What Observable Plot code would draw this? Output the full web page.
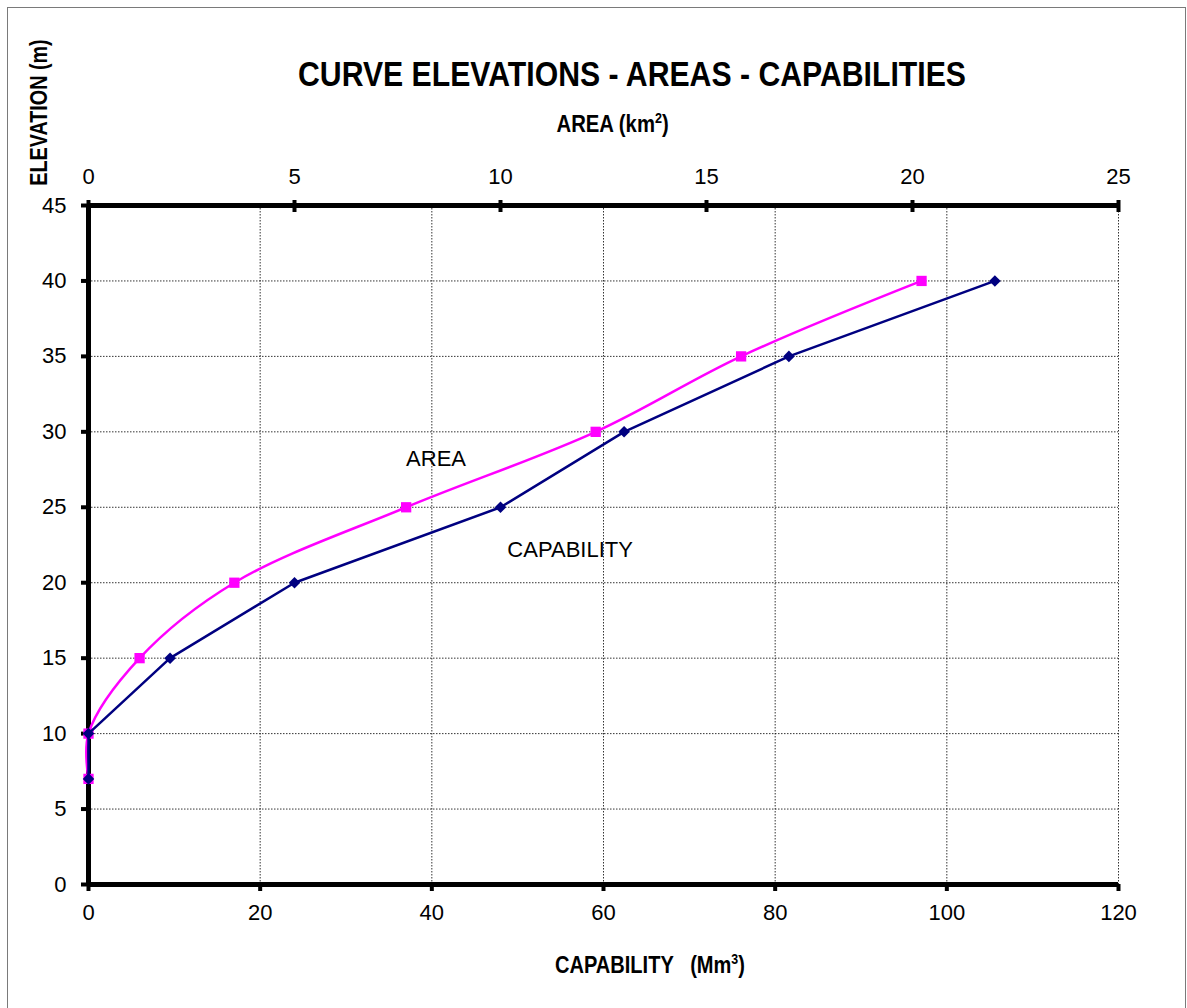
<!DOCTYPE html>
<html>
<head>
<meta charset="utf-8">
<script src="https://cdn.jsdelivr.net/npm/d3@7"></script>
<script src="https://cdn.jsdelivr.net/npm/@observablehq/plot@0.6"></script>
<style>
  body { margin: 0; background: #fff; }
  #wrap { position: relative; width: 1187px; height: 1008px; overflow: hidden; background: #fff; }
  #frame { position: absolute; left: 7px; top: 7px; width: 1179px; height: 1010px; border: 1.5px solid #7a7a7a; box-sizing: border-box; }
  .t { position: absolute; white-space: pre; color: #000; font-family: "Liberation Sans Narrow", "Liberation Sans", Arial, sans-serif; font-weight: bold; line-height: 1; transform-origin: 50% 50%; }
  #title { font-size: 35px; }
  #xtop { font-size: 23px; }
  #xbot { font-size: 23px; }
  #ylab { font-size: 23px; }
  sup { font-size: 0.62em; vertical-align: 0.6em; line-height: 0; }
  #chart { position: absolute; left: 0; top: 0; }
</style>
</head>
<body>
<div id="wrap">
  <div id="frame"></div>
  <div id="chart"></div>
  <div class="t" id="title">CURVE ELEVATIONS - AREAS - CAPABILITIES</div>
  <div class="t" id="xtop">AREA (km<sup>2</sup>)</div>
  <div class="t" id="xbot">CAPABILITY   (Mm<sup>3</sup>)</div>
  <div class="t" id="ylab">ELEVATION (m)</div>
</div>
<script>
// ---- data ----
const elevation  = [7, 10, 15, 20, 25, 30, 35, 40];               // m
const capability = [0, 0, 9.5, 24, 48, 62.4, 81.6, 105.6];        // Mm3
const area       = [0, 0, 1.24, 3.54, 7.71, 12.31, 15.84, 20.22]; // km2
const capTicks  = [0, 20, 40, 60, 80, 100, 120];
const areaTicks = [0, 5, 10, 15, 20, 25];
const elevTicks = [0, 5, 10, 15, 20, 25, 30, 35, 40, 45];
const labels = [
  {text: "AREA",       cap: 37.0, elev: 28.2},
  {text: "CAPABILITY", cap: 48.8, elev: 22.2}
];

// ---- build ----
const capMax = capTicks[capTicks.length - 1];
const areaMax = areaTicks[areaTicks.length - 1];
const elevMax = elevTicks[elevTicks.length - 1];
const k = capMax / areaMax; // area -> capability-axis units

const capData = elevation.map((e, i) => ({elev: e, v: capability[i]}));
const areaData = elevation.map((e, i) => ({elev: e, v: area[i] * k}));

const gridStyle = {stroke: "#000", strokeOpacity: 0.8, strokeDasharray: "1.5,1.5", strokeWidth: 1};

const chart = Plot.plot({
  width: 1187,
  height: 1008,
  marginLeft: 88,
  marginRight: 69,
  marginTop: 205,
  marginBottom: 124,
  x: {domain: [0, capMax]},
  y: {domain: [0, elevMax]},
  style: {fontFamily: "'Liberation Sans', Arial, sans-serif", fontSize: "22px", color: "#000", background: "transparent"},
  marks: [
    Plot.gridX(capTicks.filter(d => d > 0), gridStyle),
    Plot.gridY(elevTicks.filter(d => d > 0 && d < elevMax), gridStyle),
    Plot.axisX(capTicks, {anchor: "bottom", tickSize: 7, tickPadding: 13, strokeWidth: 4, label: null, fontSize: 22}),
    Plot.axisX(areaTicks.map(a => a * k), {anchor: "top", tickSize: 6, tickPadding: 16, strokeWidth: 4, label: null, fontSize: 22,
      tickFormat: d => String(Math.round(d / k * 100) / 100)}),
    Plot.axisX(areaTicks.map(a => a * k), {anchor: "top", tickSize: -6, strokeWidth: 4, label: null, tickFormat: () => ""}),
    Plot.axisY(elevTicks, {anchor: "left", tickSize: 7, tickPadding: 15, strokeWidth: 4, label: null, fontSize: 22}),
    Plot.ruleX([0], {stroke: "#000", strokeWidth: 5}),
    Plot.ruleY([0, elevMax], {stroke: "#000", strokeWidth: 5}),
    Plot.line(areaData, {x: "v", y: "elev", stroke: "#ff00ff", strokeWidth: 2.5, curve: "catmull-rom"}),
    Plot.dot(areaData, {x: "v", y: "elev", symbol: "square", fill: "#ff00ff", stroke: "none", r: 5.8}),
    Plot.line(capData, {x: "v", y: "elev", stroke: "#000080", strokeWidth: 2.5}),
    Plot.dot(capData, {x: "v", y: "elev", symbol: "diamond2", fill: "#000080", stroke: "none", r: 5.2}),
    Plot.text(labels, {x: "cap", y: "elev", text: "text", textAnchor: "start", fontSize: 22, fill: "#000"})
  ]
});
document.getElementById("chart").appendChild(chart);

// fit condensed-looking titles: center (cx, cy), target width, rotation
function fit(id, cx, cy, target, rot) {
  const el = document.getElementById(id);
  const w = el.offsetWidth, h = el.offsetHeight;
  const s = target / w;
  el.style.left = (cx - w / 2) + "px";
  el.style.top = (cy - h / 2) + "px";
  el.style.transform = (rot ? "rotate(" + rot + "deg) " : "") + "scaleX(" + s + ")";
}
fit("title", 632, 73, 668, 0);
fit("xtop", 612, 124, 112, 0);
fit("xbot", 650, 965, 190, 0);
fit("ylab", 39, 112, 146, -90);
</script>
</body>
</html>
